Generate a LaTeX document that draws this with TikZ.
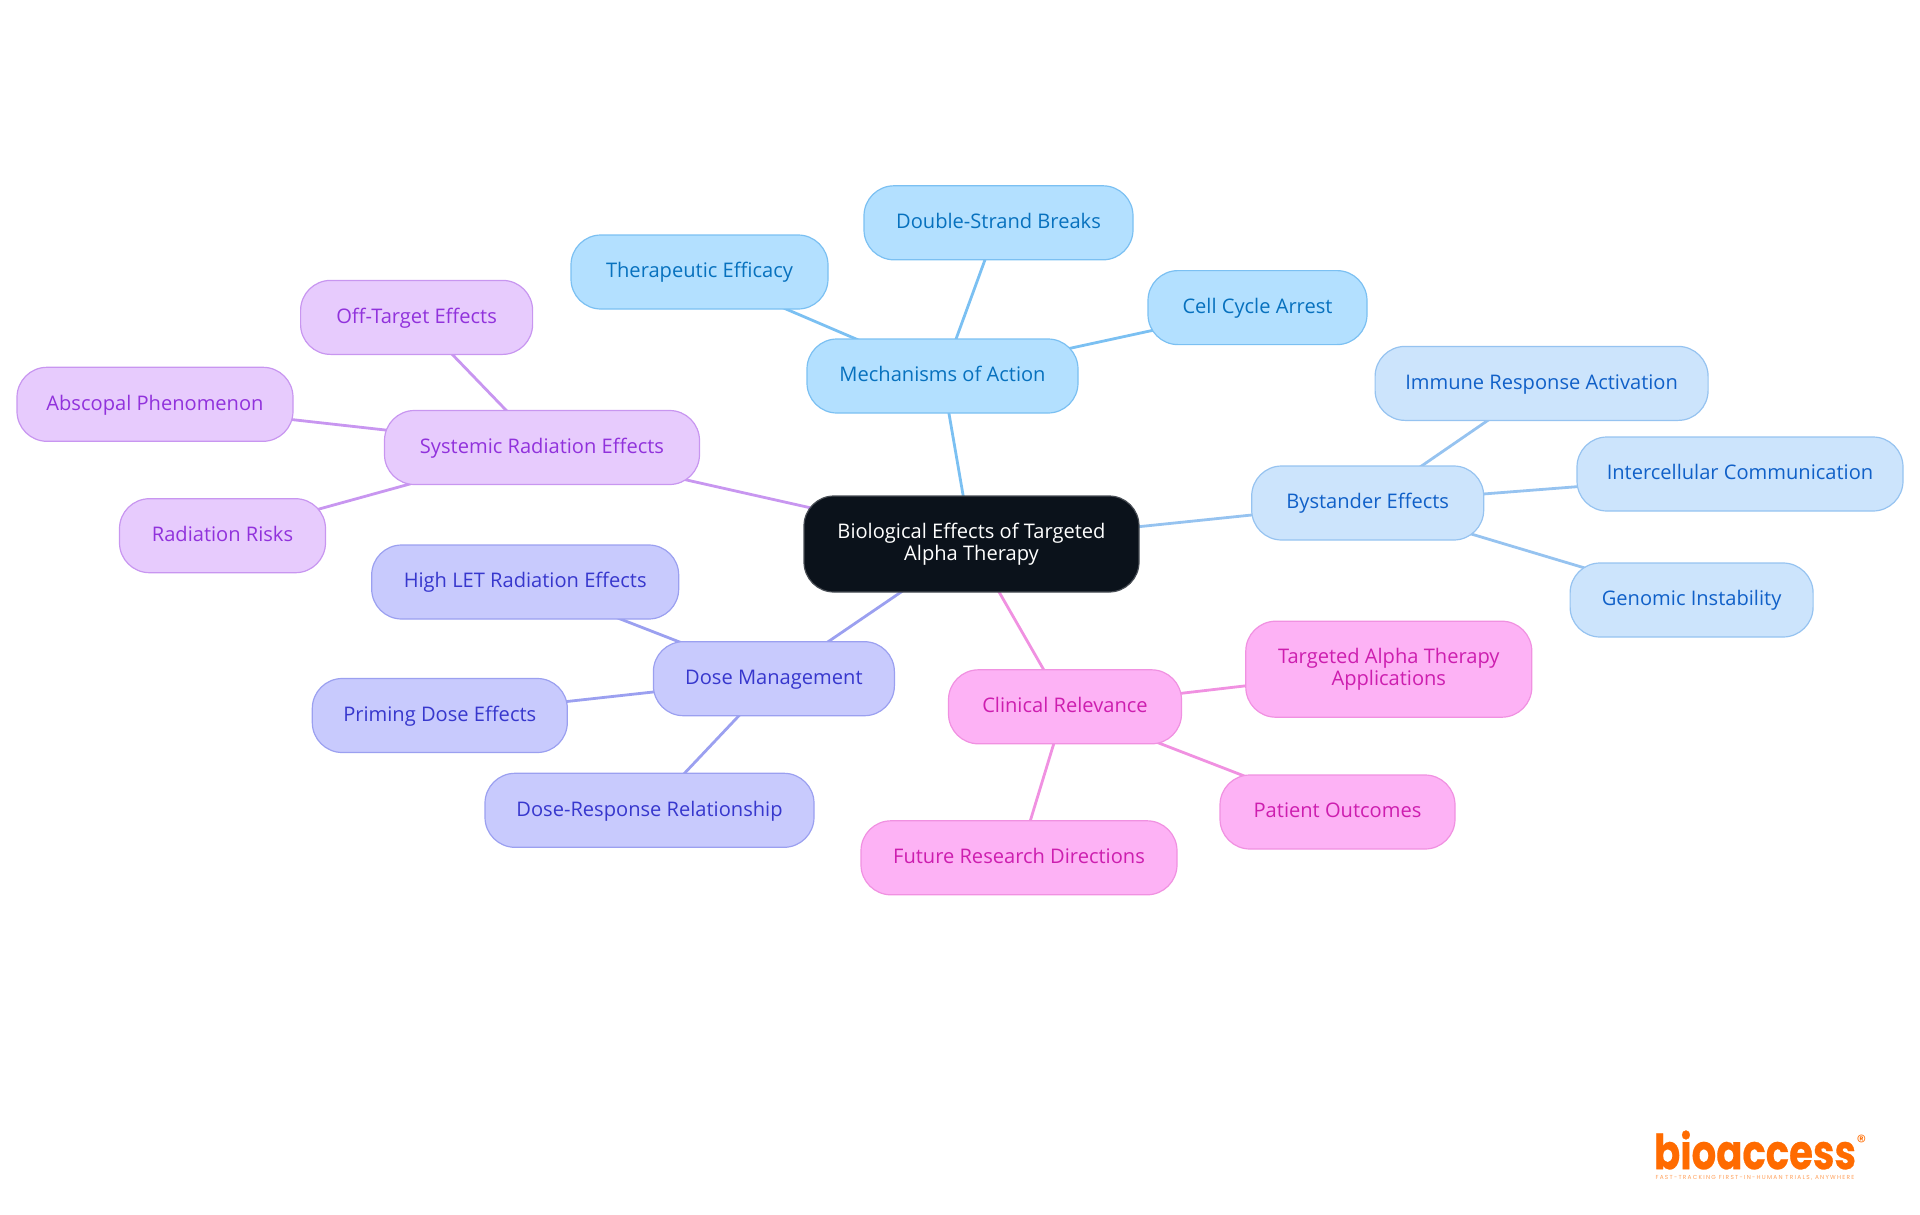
\documentclass[tikz,border=0pt]{standalone}
\usepackage{fontspec}
\setmainfont{Open Sans}
\newfontfamily\logofont[BoldFeatures={FakeBold=0.5}]{Poppins}
\newfontfamily\tagfont[LetterSpace=22]{Poppins}
\usetikzlibrary{backgrounds}
\definecolor{mechfill}{RGB}{179,224,255}
\definecolor{mechline}{RGB}{123,192,242}
\definecolor{mechtext}{RGB}{7,113,190}
\definecolor{byfill}{RGB}{204,228,252}
\definecolor{byline}{RGB}{150,195,240}
\definecolor{bytext}{RGB}{16,96,200}
\definecolor{sysfill}{RGB}{231,203,253}
\definecolor{sysline}{RGB}{200,150,240}
\definecolor{systext}{RGB}{145,50,220}
\definecolor{dosefill}{RGB}{200,202,253}
\definecolor{doseline}{RGB}{155,160,240}
\definecolor{dosetext}{RGB}{55,55,205}
\definecolor{clinfill}{RGB}{253,178,245}
\definecolor{clinline}{RGB}{240,145,225}
\definecolor{clintext}{RGB}{205,30,175}
\definecolor{rootfill}{RGB}{11,18,27}
\definecolor{logoorange}{RGB}{255,107,0}
\tikzset{
box/.style={rectangle, rounded corners=30pt, line width=1.2pt, minimum height=74pt, inner sep=0pt, align=center, text height=16.4pt, text depth=5pt, font=\fontsize{20.1}{22}\selectfont},
twoline/.style={text height=, text depth=, minimum height=96pt},
mechbox/.style={box, fill=mechfill, draw=mechline, text=mechtext},
bybox/.style={box, fill=byfill, draw=byline, text=bytext},
sysbox/.style={box, fill=sysfill, draw=sysline, text=systext},
dosebox/.style={box, fill=dosefill, draw=doseline, text=dosetext},
clinbox/.style={box, fill=clinfill, draw=clinline, text=clintext},
rootbox/.style={box, fill=rootfill, draw=rootfill!75!white, text=white},
link/.style={line width=2.8pt}
}
\begin{document}
\begin{tikzpicture}[x=1pt,y=-1pt]
\useasboundingbox (0,0) rectangle (1920,1215);
\node[rootbox, twoline, minimum width=335pt] (root) at (971.5,544){Biological Effects of Targeted\\Alpha Therapy};
\node[mechbox, minimum width=271pt] (mech0) at (942.5,376){Mechanisms of Action};
\node[mechbox, minimum width=269pt] (mech1) at (998.5,222.8){Double-Strand Breaks};
\node[mechbox, minimum width=257pt] (mech2) at (699.5,272){Therapeutic Efficacy};
\node[mechbox, minimum width=219pt] (mech3) at (1257.5,307.6){Cell Cycle Arrest};
\node[bybox, minimum width=232pt] (by0) at (1367.7,503){Bystander Effects};
\node[bybox, minimum width=333pt] (by1) at (1541.6,383.4){Immune Response Activation};
\node[bybox, minimum width=326pt] (by2) at (1740,474){Intercellular Communication};
\node[bybox, minimum width=243pt] (by3) at (1691.6,600){Genomic Instability};
\node[sysbox, minimum width=315pt] (sys0) at (542,447.5){Systemic Radiation Effects};
\node[sysbox, minimum width=232pt] (sys1) at (416.6,317.4){Off-Target Effects};
\node[sysbox, minimum width=276pt] (sys2) at (155,404.3){Abscopal Phenomenon};
\node[sysbox, minimum width=206pt] (sys3) at (222.5,535.7){Radiation Risks};
\node[dosebox, minimum width=241pt] (dose0) at (773.9,678.7){Dose Management};
\node[dosebox, minimum width=307pt] (dose1) at (525.2,582){High LET Radiation Effects};
\node[dosebox, minimum width=255pt] (dose2) at (439.8,715.5){Priming Dose Effects};
\node[dosebox, minimum width=329pt] (dose3) at (649.5,810.3){Dose-Response Relationship};
\node[clinbox, minimum width=233pt] (clin0) at (1065,706.8){Clinical Relevance};
\node[clinbox, twoline, minimum width=286pt] (clin1) at (1388.8,669.2){Targeted Alpha Therapy\\Applications};
\node[clinbox, minimum width=235pt] (clin2) at (1337.5,812){Patient Outcomes};
\node[clinbox, minimum width=316pt] (clin3) at (1019,857.8){Future Research Directions};
\node[inner sep=0pt, text=logoorange, font=\logofont\bfseries\fontsize{38.6}{40}\selectfont] (logo) at (1755,1150){\scalebox{1}[1.25]{bioaccess}};
\node[inner sep=0pt, text=logoorange, font=\logofont\fontsize{19}{19}\selectfont] (logoreg) at (1861.5,1142){®};
\node[inner sep=0pt, text=logoorange!65!white, font=\tagfont\fontsize{5.8}{6}\selectfont] (logotag) at (1755,1177.5){FAST-TRACKING FIRST-IN-HUMAN TRIALS, ANYWHERE};
\begin{scope}[on background layer]
\draw[link, mechline](root.center) -- (mech0.center);
\draw[link, mechline](mech0.center) -- (mech1.center);
\draw[link, mechline](mech0.center) -- (mech2.center);
\draw[link, mechline](mech0.center) -- (mech3.center);
\draw[link, byline](root.center) -- (by0.center);
\draw[link, byline](by0.center) -- (by1.center);
\draw[link, byline](by0.center) -- (by2.center);
\draw[link, byline](by0.center) -- (by3.center);
\draw[link, sysline](root.center) -- (sys0.center);
\draw[link, sysline](sys0.center) -- (sys1.center);
\draw[link, sysline](sys0.center) -- (sys2.center);
\draw[link, sysline](sys0.center) -- (sys3.center);
\draw[link, doseline](root.center) -- (dose0.center);
\draw[link, doseline](dose0.center) -- (dose1.center);
\draw[link, doseline](dose0.center) -- (dose2.center);
\draw[link, doseline](dose0.center) -- (dose3.center);
\draw[link, clinline](root.center) -- (clin0.center);
\draw[link, clinline](clin0.center) -- (clin1.center);
\draw[link, clinline](clin0.center) -- (clin2.center);
\draw[link, clinline](clin0.center) -- (clin3.center);
\end{scope}
\end{tikzpicture}
\end{document}
